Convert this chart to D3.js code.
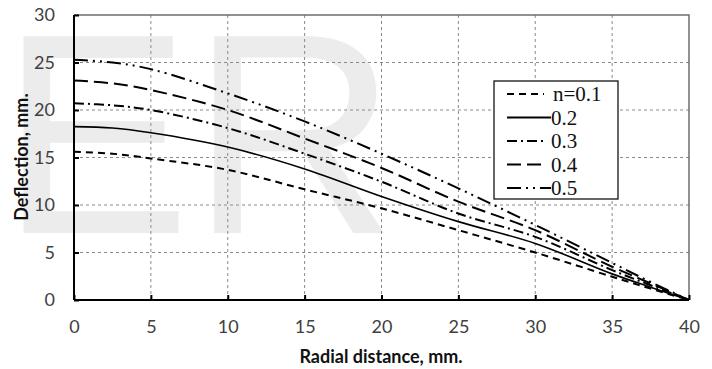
<!DOCTYPE html>
<html>
<head>
<meta charset="utf-8">
<script src="https://cdn.jsdelivr.net/npm/d3@7"></script>
<style>
  body { margin: 0; background: #fff; }
  svg { display: block; }
</style>
</head>
<body>
<div id="chart"></div>
<script>
// radial distance (mm) where the curves were read
var radial = [0, 2.5, 5, 10, 15, 20, 25, 30, 35, 37.5, 40];

// deflection (mm) for each n
var n01 = [15.6, 15.4, 14.9, 13.7, 11.65, 9.65, 7.35, 5.0, 2.45, 1.2, 0];
var n02 = [18.25, 18.1, 17.6, 16.1, 13.8, 10.9, 8.25, 5.95, 2.75, 1.35, 0];
var n03 = [20.7, 20.5, 20.0, 18.1, 15.4, 12.45, 9.1, 6.65, 3.15, 1.55, 0];
var n04 = [23.1, 22.8, 22.1, 20.0, 17.0, 13.9, 10.35, 7.35, 3.5, 1.75, 0];
var n05 = [25.3, 25.0, 24.3, 21.75, 18.8, 15.4, 11.75, 7.9, 3.9, 1.9, 0];

var legendLabels = ["n=0.1", "0.2", "0.3", "0.4", "0.5"];
var xTicks = [0, 5, 10, 15, 20, 25, 30, 35, 40];
var yTicks = [0, 5, 10, 15, 20, 25, 30];

var width = 712, height = 369;
var margin = {top: 15, right: 23, bottom: 69, left: 74};

var series = [
  {label: legendLabels[0], values: n01, dash: "7,5", w: 2},
  {label: legendLabels[1], values: n02, dash: null, w: 1.6},
  {label: legendLabels[2], values: n03, dash: "10,4,2,4", w: 2},
  {label: legendLabels[3], values: n04, dash: "14,6", w: 2},
  {label: legendLabels[4], values: n05, dash: "14,5,2,5,2,5", w: 2}
];

var svg = d3.select("#chart").append("svg")
  .attr("width", width)
  .attr("height", height);

var x = d3.scaleLinear().domain([0, 40]).range([margin.left, width - margin.right]);
var y = d3.scaleLinear().domain([0, 30]).range([height - margin.bottom, margin.top]);

// light watermark letters behind everything
svg.append("text")
  .attr("x", 0)
  .attr("y", 233)
  .style("font-family", "'Liberation Sans', Arial, sans-serif")
  .style("font-size", "286px")
  .style("fill", "#ececec")
  .text("ER");

// dashed grid
svg.append("g")
  .selectAll("line")
  .data(xTicks.slice(1, -1))
  .enter().append("line")
  .attr("x1", function(d) { return x(d); })
  .attr("x2", function(d) { return x(d); })
  .attr("y1", y(30))
  .attr("y2", y(0))
  .style("stroke", "#8a8a8a")
  .style("stroke-width", 1)
  .style("stroke-dasharray", "3,3");

svg.append("g")
  .selectAll("line")
  .data(yTicks.slice(1, -1))
  .enter().append("line")
  .attr("x1", x(0))
  .attr("x2", x(40))
  .attr("y1", function(d) { return y(d); })
  .attr("y2", function(d) { return y(d); })
  .style("stroke", "#8a8a8a")
  .style("stroke-width", 1)
  .style("stroke-dasharray", "3,3");

// top and right frame
svg.append("path")
  .attr("d", "M" + x(0) + "," + y(30) + "H" + x(40) + "V" + y(0))
  .style("fill", "none")
  .style("stroke", "#6e6e6e")
  .style("stroke-width", 1.5);

// curves
var line = d3.line()
  .x(function(d, i) { return x(radial[i]); })
  .y(function(d) { return y(d); })
  .curve(d3.curveCatmullRom.alpha(0.5));

svg.append("g")
  .selectAll("path")
  .data(series)
  .enter().append("path")
  .attr("d", function(d) { return line(d.values); })
  .style("fill", "none")
  .style("stroke", "#000")
  .style("stroke-width", function(d) { return d.w; })
  .style("stroke-dasharray", function(d) { return d.dash; });

// axes
var xAxis = d3.axisBottom(x).tickValues(xTicks).tickSize(-5).tickPadding(20).tickFormat(d3.format("d"));
var yAxis = d3.axisLeft(y).tickValues(yTicks).tickSize(-5).tickPadding(14).tickFormat(d3.format("d"));

var gx = svg.append("g")
  .attr("transform", "translate(0," + y(0) + ")")
  .call(xAxis);
var gy = svg.append("g")
  .attr("transform", "translate(" + x(0) + ",0)")
  .call(yAxis);

[gx, gy].forEach(function(g) {
  g.select(".domain").style("stroke", "#000").style("stroke-width", 2);
  g.selectAll(".tick line").style("stroke", "#000").style("stroke-width", 2);
  g.selectAll(".tick text")
    .style("font-family", "Lato, 'Open Sans', sans-serif")
    .style("font-size", "18px")
    .style("fill", "#404040");
});
gy.selectAll(".tick text").attr("x", -19);
gy.select(".domain").attr("d", "M0," + y(30) + "V" + y(0));
gx.select(".domain").attr("d", "M" + x(0) + ",0H" + x(40));

// axis titles
svg.append("text")
  .attr("x", 381)
  .attr("y", 363)
  .style("text-anchor", "middle")
  .style("font-family", "Lato, 'Open Sans', sans-serif")
  .style("font-weight", "bold")
  .style("font-size", "18px")
  .style("fill", "#111")
  .text("Radial distance, mm.");

svg.append("text")
  .attr("transform", "translate(28,157) rotate(-90)")
  .style("text-anchor", "middle")
  .style("font-family", "Lato, 'Open Sans', sans-serif")
  .style("font-weight", "bold")
  .style("font-size", "18px")
  .style("fill", "#111")
  .text("Deflection, mm.");

// legend
var legend = svg.append("g").attr("transform", "translate(494,81)");
legend.append("rect")
  .attr("width", 124)
  .attr("height", 118)
  .style("fill", "#fff")
  .style("stroke", "#000")
  .style("stroke-width", 1.2);

var item = legend.selectAll(".item")
  .data(series)
  .enter().append("g")
  .attr("class", "item")
  .attr("transform", function(d, i) { return "translate(0," + (13 + i * 23.5) + ")"; });

item.append("line")
  .attr("x1", 13)
  .attr("x2", function(d, i) { return i === 1 || i === 4 ? 57 : 50; })
  .attr("y1", 0)
  .attr("y2", 0)
  .style("stroke", "#000")
  .style("stroke-width", 2)
  .style("stroke-dasharray", function(d) { return d.dash; });

item.append("text")
  .attr("x", function(d, i) { return i === 0 ? 59 : 57; })
  .attr("dy", "0.35em")
  .style("font-family", "'Liberation Serif', 'Times New Roman', serif")
  .style("font-size", "21px")
  .style("fill", "#111")
  .text(function(d) { return d.label; });
</script>
</body>
</html>
